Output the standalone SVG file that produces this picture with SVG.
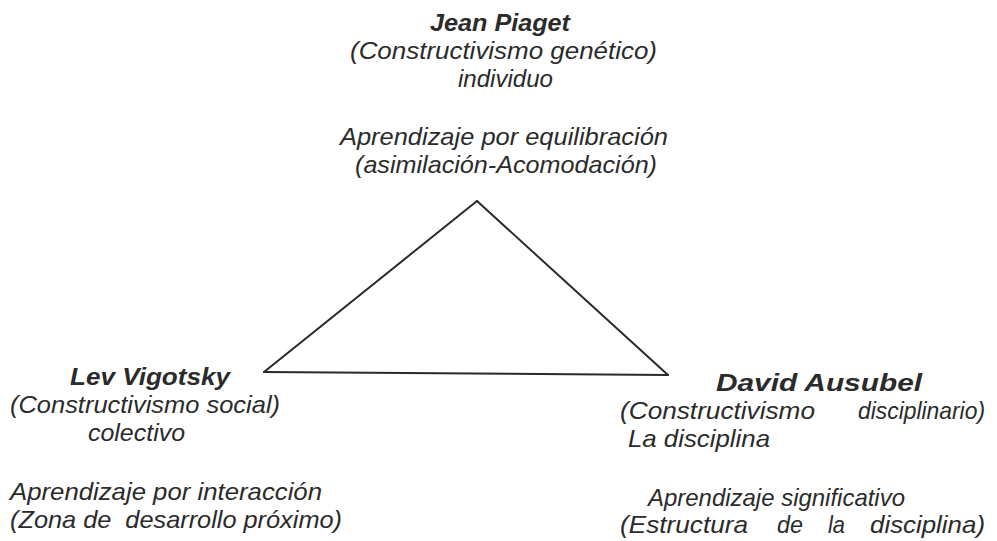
<svg xmlns="http://www.w3.org/2000/svg" width="997" height="541" viewBox="0 0 997 541">
<style>
text{font-family:"Liberation Sans",Arial,sans-serif;font-style:italic;font-size:24px;fill:#2b2b2b}
.b{font-weight:bold}
.e{stroke:#2a2a2a;stroke-width:2;fill:none;stroke-linecap:round}
</style>
<rect width="997" height="541" fill="#ffffff"/>
<g id="connectors">
<line class="e" x1="477" y1="201" x2="264" y2="372"/>
<line class="e" x1="477" y1="201" x2="668" y2="375"/>
<line class="e" x1="264" y1="372" x2="668" y2="375"/>
</g>
<g id="piaget">
<text class="b" x="430" y="31" textLength="140" lengthAdjust="spacingAndGlyphs">Jean Piaget</text>
<text x="350" y="59" textLength="307" lengthAdjust="spacingAndGlyphs">(Constructivismo genético)</text>
<text x="458" y="87" textLength="95" lengthAdjust="spacingAndGlyphs">individuo</text>
<text x="340" y="145" textLength="328" lengthAdjust="spacingAndGlyphs">Aprendizaje por equilibración</text>
<text x="355" y="173" textLength="302" lengthAdjust="spacingAndGlyphs">(asimilación-Acomodación)</text>
</g>
<g id="vigotsky">
<text class="b" x="70" y="385" textLength="160" lengthAdjust="spacingAndGlyphs">Lev Vigotsky</text>
<text x="10" y="413" textLength="270" lengthAdjust="spacingAndGlyphs">(Constructivismo social)</text>
<text x="88" y="441" textLength="97" lengthAdjust="spacingAndGlyphs">colectivo</text>
<text x="10" y="500" textLength="312" lengthAdjust="spacingAndGlyphs">Aprendizaje por interacción</text>
<text x="10" y="528" textLength="332" lengthAdjust="spacingAndGlyphs" xml:space="preserve">(Zona de  desarrollo próximo)</text>
</g>
<g id="ausubel">
<text class="b" x="716" y="391" textLength="206" lengthAdjust="spacingAndGlyphs">David Ausubel</text>
<text x="620" y="419" textLength="195" lengthAdjust="spacingAndGlyphs">(Constructivismo</text>
<text x="858" y="419" textLength="127" lengthAdjust="spacingAndGlyphs">disciplinario)</text>
<text x="628" y="447" textLength="142" lengthAdjust="spacingAndGlyphs">La disciplina</text>
<text x="648" y="506" textLength="257" lengthAdjust="spacingAndGlyphs">Aprendizaje significativo</text>
<text x="620" y="533" textLength="128" lengthAdjust="spacingAndGlyphs">(Estructura</text>
<text x="777" y="533" textLength="26" lengthAdjust="spacingAndGlyphs">de</text>
<text x="828" y="533" textLength="17" lengthAdjust="spacingAndGlyphs">la</text>
<text x="870" y="533" textLength="115" lengthAdjust="spacingAndGlyphs">disciplina)</text>
</g>
</svg>
